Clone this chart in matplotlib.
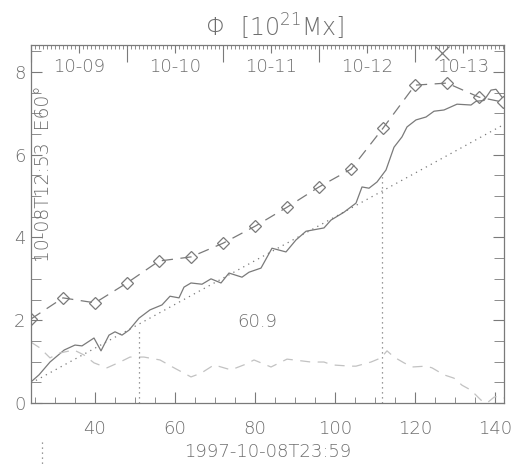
import numpy as np
import matplotlib.pyplot as plt
from matplotlib.ticker import MultipleLocator, FixedLocator, NullFormatter

plt.rcParams['font.family'] = ['DejaVu Sans']
plt.rcParams['font.weight'] = 'light'
plt.rcParams['axes.labelweight'] = 'light'

# hours since 1997-10-08 00:00
hours_phi = [24, 26, 28.75, 32.3, 35, 36.75, 39.75, 41.5, 43.5, 45, 46.75, 48.5,
             51, 53.75, 56.75, 58.75, 61, 62.25, 64, 66.75, 69, 71.5, 73.5, 76.75,
             78.5, 81.5, 84.25, 87.75, 90.25, 92.75, 97.25, 99, 102.25, 105.25,
             106.75, 108.5, 110.5, 112.75, 114.75, 116.75, 118, 120.25, 122.75,
             124.75, 127.25, 130.5, 134, 135.25, 137.25, 139, 140.25, 141.75]
phi = [0.51, 0.68, 0.99, 1.28, 1.40, 1.38, 1.57, 1.26, 1.64, 1.72, 1.64, 1.76,
       2.05, 2.25, 2.37, 2.58, 2.54, 2.80, 2.90, 2.87, 3.00, 2.90, 3.14, 3.04,
       3.16, 3.26, 3.74, 3.65, 3.94, 4.15, 4.23, 4.42, 4.61, 4.83,
       5.22, 5.19, 5.34, 5.63, 6.18, 6.43, 6.67, 6.84, 6.91,
       7.05, 7.08, 7.22, 7.20, 7.29, 7.31, 7.56, 7.58, 7.39]

hours_diam = [24, 32, 40, 48, 56, 64, 72, 80, 88, 96, 104, 112, 120, 128, 136, 142]
phi_diam = [2.03, 2.54, 2.42, 2.90, 3.43, 3.53, 3.86, 4.27, 4.73, 5.22, 5.65,
            6.64, 7.68, 7.73, 7.39, 7.27]

cross_hour = [126.75]
cross_phi = [8.45]

fit_hours = [24, 142.25]
fit_phi = [0.48, 6.73]

hours_low = [24, 26.25, 28.75, 31.25, 34.75, 37.25, 39.75, 43, 46.25, 48.75,
             52.25, 56.25, 59.75, 64, 66.5, 69.75, 74, 77.75, 79.75, 84, 88,
             89.75, 94, 97.25, 99.25, 104, 105.25, 109, 111.5, 113, 114.75,
             117.25, 119.25, 122.75, 124.25, 127.25, 129.75, 131.75, 134, 136.5,
             138, 139.75, 141, 142.25]
phi_low = [1.47, 1.33, 1.09, 1.21, 1.28, 1.16, 0.97, 0.85, 0.99, 1.11,
           1.11, 1.04, 0.85, 0.63, 0.72, 0.92, 0.80, 0.94, 1.04, 0.87, 1.06,
           1.04, 0.99, 0.99, 0.92, 0.89, 0.89, 0.99, 1.09, 1.26, 1.11,
           0.97, 0.87, 0.89, 0.85, 0.68, 0.60, 0.43, 0.31, 0.07,
           0.0, 0.14, 0.17, 0.12]

vline_hours = [51, 111.75]
vline_tops = [1.81, 5.56]

day_centers = [36, 60, 84, 108, 132]
day_labels = ['10-09', '10-10', '10-11', '10-12', '10-13']

col = '#7a7a7a'
light = '#c2c2c2'
txt = '#6e6e6e'

fig = plt.figure(figsize=(5.14, 4.68), dpi=100)
ax = fig.add_axes([31/514, 1 - 403/468, 473/514, 358/468])

ax.plot(hours_phi, phi, color=col, lw=0.9)
ax.plot(hours_diam, phi_diam, color=col, lw=0.9, ls=(0, (9, 6)),
        marker='D', ms=6.5, mfc='none', mec=col, mew=0.9)
ax.plot(cross_hour, cross_phi, ls='none', marker='x', ms=10, mec=col, mew=0.9)
ax.plot(fit_hours, fit_phi, color=col, lw=0.9, ls=(0, (1, 3.5)))
ax.plot(hours_low, phi_low, color=light, lw=0.9, ls=(0, (8, 6)))
ax.vlines(vline_hours, 0, vline_tops, colors=col, lw=0.9, linestyles=(0, (1, 3)))

ax.text(80.5, 1.96, '60.9', color=txt, fontsize=13, ha='center', va='center')
ax.text(0.027, 0.395, '10-08T12:53  E60°', transform=ax.transAxes, rotation=90,
        color=txt, fontsize=13.5, ha='center', va='bottom', zorder=5)
ax.text(0.515, 1.05, r'$\Phi$  [10$^{21}$Mx]', transform=ax.transAxes,
        color=txt, fontsize=17, ha='center', va='center')

ax.set_xlim(24, 142.25)
ax.set_ylim(0, 8.65)
ax.xaxis.set_major_locator(MultipleLocator(20))
ax.xaxis.set_minor_locator(MultipleLocator(5))
ax.yaxis.set_major_locator(MultipleLocator(2))
ax.yaxis.set_minor_locator(MultipleLocator(0.5))
ax.tick_params(which='both', direction='in', colors=col, labelcolor=txt,
               bottom=True, left=True, right=True, top=False, labelsize=13)
ax.tick_params(axis='x', which='major', length=8, pad=12)
ax.tick_params(axis='x', which='minor', length=4)
ax.tick_params(axis='y', which='major', length=8, pad=4)
ax.tick_params(axis='y', which='minor', length=7)
ax.set_xlabel('1997-10-08T23:59', color=txt, fontsize=13, labelpad=4,
              fontweight='light')
for s in ax.spines.values():
    s.set_color(col)
    s.set_linewidth(0.9)

# top date axis: hours minor, noon labelled, day boundaries long
ax2 = ax.twiny()
ax2.set_xlim(ax.get_xlim())
ax2.xaxis.set_major_locator(FixedLocator(day_centers))
ax2.set_xticklabels(day_labels)
ax2.xaxis.set_minor_locator(MultipleLocator(1))
ax2.tick_params(which='both', direction='in', colors=col, labelcolor=txt,
                labelsize=13)
ax2.tick_params(which='major', length=6, pad=-22)
ax2.tick_params(which='minor', length=3)
for s in ax2.spines.values():
    s.set_visible(False)

ax3 = ax.twiny()
ax3.set_xlim(ax.get_xlim())
ax3.xaxis.set_major_locator(MultipleLocator(24))
ax3.xaxis.set_major_formatter(NullFormatter())
ax3.tick_params(which='major', direction='in', length=12, colors=col)
for s in ax3.spines.values():
    s.set_visible(False)

# small dotted mark beside the time label
ax.plot([0.023, 0.023], [-0.11, -0.18], transform=ax.transAxes, clip_on=False,
        color=col, lw=0.9, ls=(0, (1, 3)))

fig.savefig('out.png', dpi=100)
